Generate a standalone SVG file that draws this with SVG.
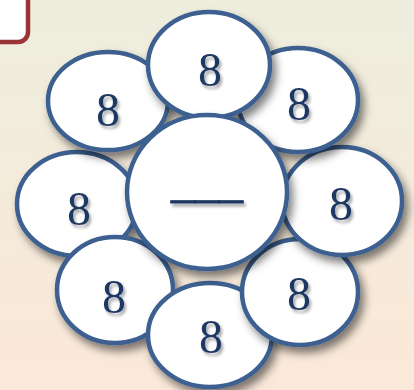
<svg xmlns="http://www.w3.org/2000/svg" width="414" height="390" viewBox="0 0 414 390">
  <defs>
    <linearGradient id="bg" x1="0" y1="0" x2="0" y2="1">
      <stop offset="0" stop-color="#eeeede"/>
      <stop offset="1" stop-color="#fbe8d8"/>
    </linearGradient>
    <filter id="sh" x="-30%" y="-30%" width="170%" height="170%">
      <feDropShadow dx="4" dy="6" stdDeviation="4" flood-color="#000" flood-opacity="0.5"/>
    </filter>
    <filter id="tsh" x="-30%" y="-30%" width="170%" height="170%">
      <feDropShadow dx="2" dy="3" stdDeviation="1.5" flood-color="#000" flood-opacity="0.35"/>
    </filter>
  </defs>
  <style>
    .petal { fill: #ffffff; stroke: #3c6190; stroke-width: 4.5; }
    .num { font-family: "Liberation Serif", "Times New Roman", serif; font-size: 48px; fill: #1f3864; text-anchor: middle; }
    .blank { stroke: #1f3864; stroke-width: 0.8; }
  </style>
  <rect x="0" y="0" width="414" height="390" fill="url(#bg)"/>
  <rect x="-20" y="-20" width="48" height="62" rx="10" ry="10" fill="#ffffff" stroke="#9b3535" stroke-width="4.5"/>

  <g id="petal-left" filter="url(#sh)">
    <ellipse class="petal" cx="77" cy="204" rx="60" ry="52"/>
    <text class="num" x="79" y="225" filter="url(#tsh)">8</text>
  </g>
  <g id="petal-lower-left" filter="url(#sh)">
    <ellipse class="petal" cx="115" cy="290" rx="58" ry="53"/>
    <text class="num" x="114" y="313" filter="url(#tsh)">8</text>
  </g>
  <g id="petal-bottom" filter="url(#sh)">
    <ellipse class="petal" cx="210" cy="335" rx="62" ry="52"/>
    <text class="num" x="211" y="353" filter="url(#tsh)">8</text>
  </g>
  <g id="petal-lower-right" filter="url(#sh)">
    <ellipse class="petal" cx="300" cy="292" rx="58" ry="53"/>
    <text class="num" x="299" y="310" filter="url(#tsh)">8</text>
  </g>
  <g id="petal-right" filter="url(#sh)">
    <ellipse class="petal" cx="342" cy="201" rx="60" ry="54"/>
    <text class="num" x="341" y="220" filter="url(#tsh)">8</text>
  </g>
  <g id="petal-upper-right" filter="url(#sh)">
    <ellipse class="petal" cx="298" cy="100" rx="60" ry="52"/>
    <text class="num" x="299" y="120" filter="url(#tsh)">8</text>
  </g>
  <g id="petal-upper-left" filter="url(#sh)">
    <ellipse class="petal" cx="108" cy="101" rx="60" ry="49"/>
    <text class="num" x="108" y="126" filter="url(#tsh)">8</text>
  </g>
  <g id="petal-top" filter="url(#sh)">
    <ellipse class="petal" cx="209" cy="65" rx="61" ry="53"/>
    <text class="num" x="210" y="86" filter="url(#tsh)">8</text>
  </g>
  <g id="center" filter="url(#sh)">
    <ellipse class="petal" cx="207" cy="192" rx="80" ry="77"/>
    <text class="num blank" x="207" y="197" filter="url(#tsh)">___</text>
  </g>
  <g id="connectors"/>
</svg>
